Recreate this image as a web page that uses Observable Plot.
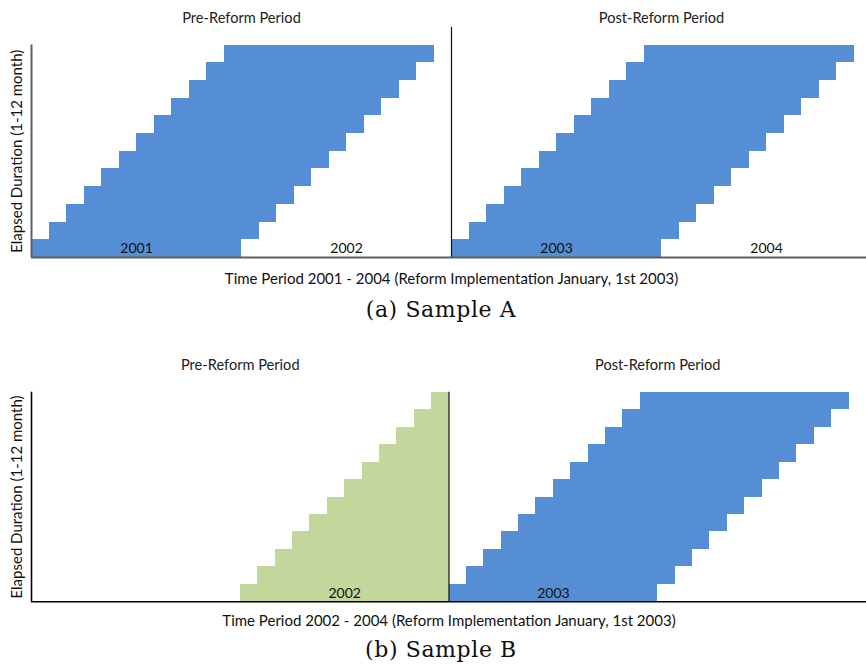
<!DOCTYPE html>
<html><head><meta charset="utf-8">
<script src="https://cdn.jsdelivr.net/npm/d3@7"></script>
<script src="https://cdn.jsdelivr.net/npm/@observablehq/plot@0.6"></script>
<style>
body{margin:0;background:#fff;width:866px;height:666px;position:relative;overflow:hidden}
.panel{position:absolute;left:0;top:0}
.cap{position:absolute;left:0;width:882px;text-align:center;font-family:"DejaVu Serif","Liberation Serif",serif;font-size:22px;letter-spacing:0.6px;color:#111;line-height:28px}
</style></head><body>
<div id="pa" class="panel" style="top:0px"></div>
<div class="cap" style="top:296px">(a) Sample A</div>
<div id="pb" class="panel" style="top:336px"></div>
<div class="cap" style="top:636px">(b) Sample B</div>
<script>
// Elapsed duration rows (months)
const elapsed = [1, 2, 3, 4, 5, 6, 7, 8, 9, 10, 11, 12];
// Month indices counted from January 2001 (0 = Jan 2001, 24 = Jan 2003)
const aPreStart  = [0, 1, 2, 3, 4, 5, 6, 7, 8, 9, 10, 11];
const aPreEnd    = [12, 13, 14, 15, 16, 17, 18, 19, 20, 21, 22, 23];
const aPostStart = [24, 25, 26, 27, 28, 29, 30, 31, 32, 33, 34, 35];
const aPostEnd   = [36, 37, 38, 39, 40, 41, 42, 43, 44, 45, 46, 47];
const bPreStart  = [12, 13, 14, 15, 16, 17, 18, 19, 20, 21, 22, 23];
const bPreEnd    = [24, 24, 24, 24, 24, 24, 24, 24, 24, 24, 24, 24];
const bPostStart = [24, 25, 26, 27, 28, 29, 30, 31, 32, 33, 34, 35];
const bPostEnd   = [36, 37, 38, 39, 40, 41, 42, 43, 44, 45, 46, 47];
const reformMonth = 24;
const aYearLabels = ["2001", "2002", "2003", "2004"];
const aYearMid = [6, 18, 30, 42];
const bYearLabels = ["2002", "2003"];
const bYearMid = [18, 30];
const periodTitles = ["Pre-Reform Period", "Post-Reform Period"];
const periodMid = [12, 36];
const yLabel = "Elapsed Duration (1-12 month)";
const aXTitle = "Time Period 2001 - 2004 (Reform Implementation January, 1st 2003)";
const bXTitle = "Time Period 2002 - 2004 (Reform Implementation January, 1st 2003)";
const seriesNames = ["Spells", "Pre-reform spells 2002"];
const seriesColors = ["#558ed5", "#c3d69b"];

const rows = (s, e, series) => elapsed.map((d, i) => ({elapsed: d, start: s[i], end: e[i], series}));

function panel(o) {
  const years = o.yearLabels.map((t, i) => ({t, x: o.yearMid[i]}));
  const titles = periodTitles.map((t, i) => ({t, x: periodMid[i]}));
  return Plot.plot({
    width: 866, height: o.height,
    marginLeft: 31, marginRight: 0, marginTop: o.marginTop, marginBottom: o.marginBottom,
    x: {domain: [0, 48], range: [31, o.rangeRight], axis: null},
    y: {domain: [0, 12], axis: null},
    color: {domain: seriesNames, range: seriesColors},
    style: {fontFamily: "Lato, 'Open Sans', sans-serif", color: "#1a1a1a", background: "transparent", overflow: "visible"},
    marks: [
      Plot.rect(o.bars, {x1: "start", x2: "end", y1: d => d.elapsed - 1, y2: "elapsed", fill: "series", shapeRendering: "crispEdges"}),
      Plot.ruleX([reformMonth], {y1: 0, y2: o.ruleTop, stroke: "#111", strokeWidth: o.ruleWidth}),
      Plot.ruleX([0], {stroke: o.axisColor, strokeWidth: o.axisWidth}),
      Plot.ruleY([0], {stroke: o.axisColor, strokeWidth: o.axisWidth}),
      Plot.text(years, {x: "x", y: 0.5, text: "t", fontSize: 14, fill: "#111"}),
      Plot.text(titles, {x: "x", frameAnchor: "top", lineAnchor: "middle", dy: o.titleDy, text: "t", fontSize: 14.6, fill: "#222"}),
      Plot.text([o.xTitle], {x: reformMonth, frameAnchor: "bottom", lineAnchor: "middle", dy: o.xTitleDy, text: d => d, fontSize: 15, fill: "#111"}),
      Plot.text([yLabel], {frameAnchor: "left", textAnchor: "middle", lineAnchor: "middle", dx: -14, rotate: -90, text: d => d, fontSize: 15, fill: "#111"})
    ]
  });
}

document.getElementById("pa").append(panel({
  bars: [...rows(aPreStart, aPreEnd, seriesNames[0]), ...rows(aPostStart, aPostEnd, seriesNames[0])],
  yearLabels: aYearLabels, yearMid: aYearMid, xTitle: aXTitle,
  height: 292, marginTop: 44.5, marginBottom: 35, rangeRight: 871,
  ruleTop: 13, ruleWidth: 1.2, axisColor: "#5f5f5f", axisWidth: 2,
  titleDy: -26.5, xTitleDy: 22
}));
document.getElementById("pb").append(panel({
  bars: [...rows(bPreStart, bPreEnd, seriesNames[1]), ...rows(bPostStart, bPostEnd, seriesNames[0])],
  yearLabels: bYearLabels, yearMid: bYearMid, xTitle: bXTitle,
  height: 294, marginTop: 55.7, marginBottom: 28.7, rangeRight: 866,
  ruleTop: 12, ruleWidth: 1.2, axisColor: "#000", axisWidth: 1.6,
  titleDy: -26.7, xTitleDy: 19
}));
</script>
</body></html>
